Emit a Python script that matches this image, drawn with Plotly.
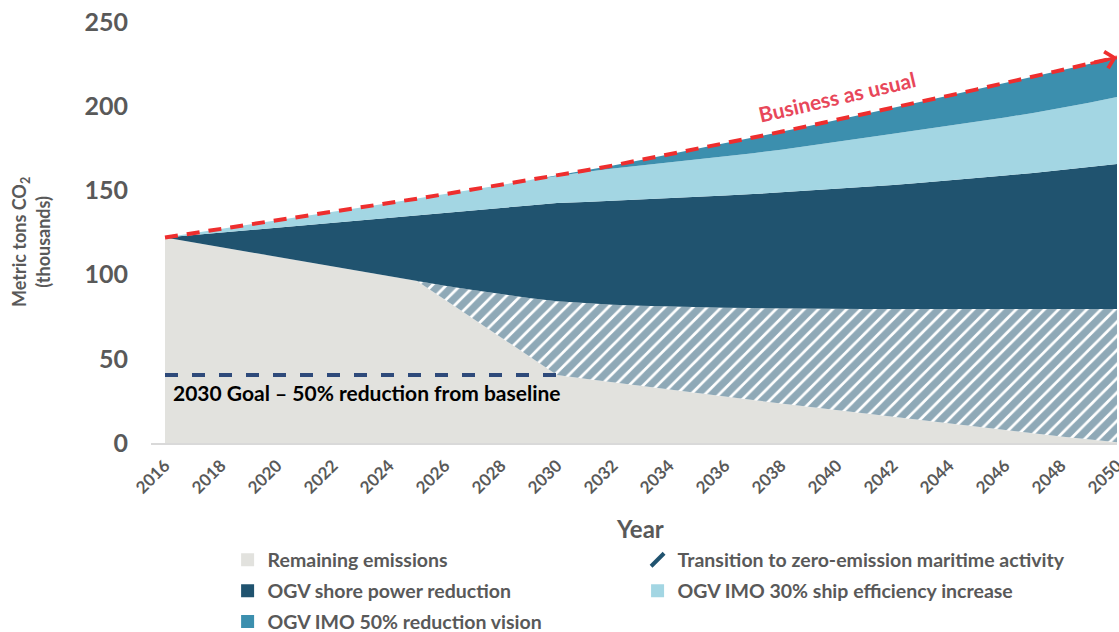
import plotly.graph_objects as go

# ---------------- data ----------------
years = list(range(2016, 2051))

# cumulative top of each stacked layer (thousand metric tons CO2)
remaining_top = [122.0, 119.1, 116.3, 113.4, 110.5, 107.7, 104.8, 101.9, 99.1, 96.2,
                 85.0, 73.9, 62.7, 51.6, 40.4,
                 38.2, 36.0, 33.9, 31.8, 29.7, 27.6, 25.5, 23.5, 21.4, 19.4,
                 17.4, 15.4, 13.4, 11.5, 9.6, 7.7, 5.8, 3.9, 2.1, 0.5]
transition_top = [122.0, 119.1, 116.3, 113.4, 110.5, 107.7, 104.8, 101.9, 99.1, 96.2,
                  93.4, 90.8, 88.4, 86.1, 84.2,
                  83.0, 82.1, 81.5, 81.0, 80.6, 80.3, 80.1, 79.9, 79.8, 79.7,
                  79.6, 79.6, 79.6, 79.6, 79.6, 79.6, 79.6, 79.6, 79.6, 79.6]
shore_power_top = [122.0, 123.5, 124.9, 126.4, 127.9, 129.3, 130.8, 132.2, 133.7, 135.2,
                   136.6, 138.1, 139.6, 141.0, 142.5,
                   143.1, 143.8, 144.5, 145.2, 146.0, 146.9, 147.8, 148.8, 149.8, 150.8,
                   152.0, 153.2, 154.5, 155.8, 157.3, 158.8, 160.4, 162.1, 163.9, 165.7]
efficiency_top = [122.0, 124.5, 127.0, 129.6, 132.2, 134.8, 137.3, 139.9, 142.5, 145.1,
                  147.8, 150.5, 153.2, 156.0, 158.6,
                  161.0, 163.0, 164.8, 166.5, 168.2, 170.1, 172.1, 174.2, 176.4, 178.8,
                  181.2, 183.6, 186.0, 188.3, 190.7, 193.3, 196.0, 198.8, 202.0, 205.5]
business_as_usual = [122.0, 124.5, 127.0, 129.6, 132.2, 134.8, 137.3, 139.9, 142.5, 145.1,
                     147.8, 150.5, 153.2, 156.0, 158.8,
                     161.8, 164.8, 168.0, 171.3, 174.6, 178.0, 181.4, 184.8, 188.3, 191.8,
                     195.4, 199.0, 202.6, 206.3, 210.0, 213.7, 217.5, 221.3, 225.1, 229.0]

goal_years = [2016, 2030]
goal_values = [40.4, 40.4]

x_ticks = list(range(2016, 2051, 2))
y_ticks = [0, 50, 100, 150, 200, 250]

series_names = ["Remaining emissions",
                "Transition to zero-emission maritime activity",
                "OGV shore power reduction",
                "OGV IMO 30% ship efficiency increase",
                "OGV IMO 50% reduction vision"]

# ---------------- style ----------------
FONT = "Lato"
GREY_TXT = "#595959"
C_REMAIN = "#E2E2DE"
C_DARK = "#20536F"
C_LIGHT = "#A3D6E3"
C_MED = "#3C8FAE"
C_RED = "#EE2E2E"
C_NAVY = "#2E4A7A"

fig = go.Figure()

# stacked areas (drawn via cumulative tops)
fig.add_trace(go.Scatter(
    x=years, y=remaining_top, mode="lines", line=dict(width=0, color=C_REMAIN),
    fill="tozeroy", fillcolor=C_REMAIN, showlegend=False, hoverinfo="skip"))
fig.add_trace(go.Scatter(
    x=years, y=transition_top, mode="lines", line=dict(width=0, color=C_DARK),
    fill="tonexty", fillcolor="white",
    fillpattern=dict(shape="/", fgcolor=C_DARK, bgcolor="white", size=10, solidity=0.72),
    showlegend=False, hoverinfo="skip"))
fig.add_trace(go.Scatter(
    x=years, y=shore_power_top, mode="lines", line=dict(width=0, color=C_DARK),
    fill="tonexty", fillcolor=C_DARK, showlegend=False, hoverinfo="skip"))
fig.add_trace(go.Scatter(
    x=years, y=efficiency_top, mode="lines", line=dict(width=0, color=C_LIGHT),
    fill="tonexty", fillcolor=C_LIGHT, showlegend=False, hoverinfo="skip"))
fig.add_trace(go.Scatter(
    x=years, y=business_as_usual, mode="lines", line=dict(width=0, color=C_MED),
    fill="tonexty", fillcolor=C_MED, showlegend=False, hoverinfo="skip"))

# business as usual dashed line
fig.add_trace(go.Scatter(
    x=years, y=business_as_usual, mode="lines",
    line=dict(color=C_RED, width=4, dash="13px,9px"),
    showlegend=False, hoverinfo="skip"))

# 2030 goal dashed line
fig.add_trace(go.Scatter(
    x=goal_years, y=goal_values, mode="lines",
    line=dict(color=C_NAVY, width=4, dash="13px,14px"),
    showlegend=False, hoverinfo="skip"))

# legend entries (small square swatches like the reference), one legend box per entry
legend_specs = [
    (series_names[0], "square", C_REMAIN, "legend"),
    (series_names[1], "line-ne", C_DARK, "legend2"),
    (series_names[2], "square", C_DARK, "legend3"),
    (series_names[3], "square", C_LIGHT, "legend4"),
    (series_names[4], "square", C_MED, "legend5"),
]
for name, sym, col, lg in legend_specs:
    fig.add_trace(go.Scatter(
        x=[None], y=[None], mode="markers", name=name, legend=lg,
        marker=dict(symbol=sym, size=13, color=col,
                    line=dict(color=col, width=4 if sym == "line-ne" else 0))))

annotations = [
    # arrow head at end of BAU line
    dict(x=years[-1], y=business_as_usual[-1], xref="x", yref="y",
         ax=years[-2], ay=business_as_usual[-2],
         axref="x", ayref="y", showarrow=True, arrowhead=4, arrowsize=1.1,
         arrowwidth=3, arrowcolor=C_RED, text=""),
    dict(x=2040.0, y=205.5, xref="x", yref="y", text="<b>Business as usual</b>",
         showarrow=False, textangle=-13, font=dict(family=FONT, size=21, color="#E8475A")),
    dict(x=2016.2, y=29.7, xref="x", yref="y", xanchor="left", yanchor="middle",
         text="<b>2030 Goal – 50% reduction from baseline</b>", showarrow=False,
         font=dict(family=FONT, size=21, color="#000000")),
    dict(x=-0.124, y=0.478, xref="paper", yref="paper", xanchor="center", yanchor="middle",
         text="<b>Metric tons CO<sub>2</sub><br>(thousands)</b>", textangle=-90, showarrow=False,
         font=dict(family=FONT, size=18, color=GREY_TXT)),
    dict(x=0.506, y=-0.202, xref="paper", yref="paper", xanchor="center", yanchor="middle",
         text="<b>Year</b>", showarrow=False, font=dict(family=FONT, size=24, color=GREY_TXT)),
]

legend_common = dict(orientation="h", xanchor="left", yanchor="middle",
                     font=dict(family=FONT, size=19.5, color=GREY_TXT, weight="bold"),
                     bgcolor="rgba(0,0,0,0)", itemwidth=30)

COL1, COL2 = 0.0793, 0.5037
ROW1, ROW2, ROW3 = -0.278, -0.352, -0.425

fig.update_layout(
    width=1119, height=632,
    margin=dict(l=151, r=2, t=22, b=189, autoexpand=False),
    paper_bgcolor="white", plot_bgcolor="white",
    font=dict(family=FONT, color=GREY_TXT),
    showlegend=True,
    legend=dict(x=COL1, y=ROW1, **legend_common),
    legend2=dict(x=COL2, y=ROW1, **legend_common),
    legend3=dict(x=COL1, y=ROW2, **legend_common),
    legend4=dict(x=COL2, y=ROW2, **legend_common),
    legend5=dict(x=COL1, y=ROW3, **legend_common),
    annotations=annotations,
    xaxis=dict(range=[2015.5, 2050], tickmode="array", tickvals=x_ticks,
               ticktext=[f"<b>{t}</b>" for t in x_ticks], tickangle=-45,
               tickfont=dict(family=FONT, size=17, color=GREY_TXT),
               showgrid=False, zeroline=False, showline=True, linecolor="#D9D9D9",
               linewidth=2, ticks="", automargin=False, ticklabeloverflow="allow",
               ticklabelstandoff=4),
    yaxis=dict(range=[0, 250], tickmode="array", tickvals=y_ticks,
               ticktext=[f"<b>{t}</b>" for t in y_ticks],
               tickfont=dict(family=FONT, size=25, color=GREY_TXT),
               showgrid=False, zeroline=False, showline=False, ticks="",
               ticklabelstandoff=22, automargin=False, ticklabeloverflow="allow"),
)

# remove the default page margin so the 1119x632 figure fills the window exactly
fig.write_html("out.html",
               config={"displayModeBar": False},
               post_script="document.body.style.margin='0px';document.body.style.overflow='hidden';")
